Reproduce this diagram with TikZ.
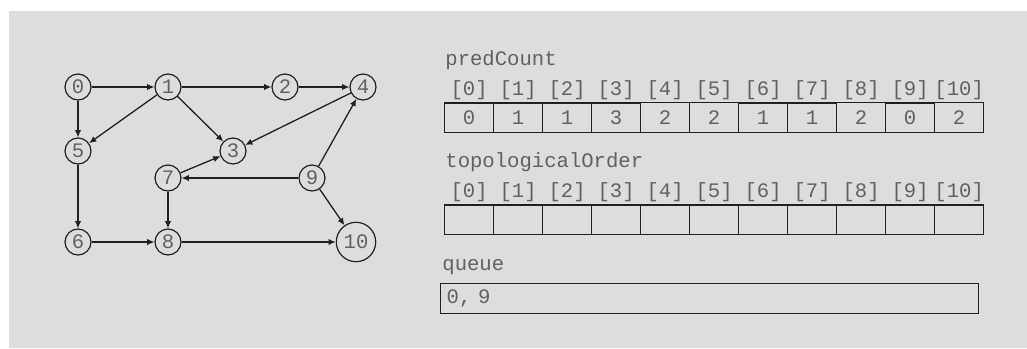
\documentclass[tikz,border=0pt]{standalone}
\usepackage{fontspec}
\setmonofont{Liberation Mono}
\usepackage{tikz}
\usetikzlibrary{
    arrows.meta,
    positioning,
    matrix
}
\definecolor{figGray}{RGB}{220,221,223}
\definecolor{inkDark}{RGB}{35,31,32}
\colorlet{inkText}{black!62}
\newcommand{\monofnt}{\ttfamily\fontsize{10.3pt}{12pt}\selectfont}
\tikzset{
  vtx/.style    = {draw=inkDark, circle, line width=0.6pt, minimum size=13pt,
                   inner sep=0pt, font=\monofnt, text=inkText},
  bigvtx/.style = {vtx, minimum size=19.7pt},
  edge/.style   = {-{Latex[length=3.6pt, width=3.2pt]}, line width=0.65pt,
                   draw=inkDark},
  cell/.style   = {draw=inkDark, line width=0.65pt, minimum width=24.5pt,
                   minimum height=14.75pt, inner sep=0pt, outer sep=0pt,
                   font=\monofnt, text=inkText},
  idx/.style    = {draw=none},
  lbl/.style    = {anchor=base west, inner sep=0pt, font=\monofnt, text=inkText}
}

\begin{document}
\begin{tikzpicture}[
        x=0.5pt, y=-0.5pt,
        arr/.style={matrix of nodes, nodes={cell}, nodes in empty cells,
                    row 1/.style={nodes={idx}}, column sep=-0.65pt,
                    row sep=-1.3pt, inner sep=0pt, outer sep=0pt,
                    anchor=north west}
      ]
        \useasboundingbox (0,0) rectangle (1027,348);
        \fill[figGray] (9,11) rectangle (1027,348);

        % ── GRAPH ──
        \node[vtx]    (v0)  at (78,87)   {0};
        \node[vtx]    (v1)  at (168,87)  {1};
        \node[vtx]    (v2)  at (285,87)  {2};
        \node[vtx]    (v4)  at (363,87)  {4};
        \node[vtx]    (v5)  at (78,151)  {5};
        \node[vtx]    (v3)  at (233,151) {3};
        \node[vtx]    (v7)  at (168,178) {7};
        \node[vtx]    (v9)  at (312,178) {9};
        \node[vtx]    (v6)  at (78,242)  {6};
        \node[vtx]    (v8)  at (168,242) {8};
        \node[bigvtx] (v10) at (356,242) {10};

        \draw[edge] (v0) -- (v1);
        \draw[edge] (v0) -- (v5);
        \draw[edge] (v1) -- (v2);
        \draw[edge] (v1) -- (v5);
        \draw[edge] (v1) -- (v3);
        \draw[edge] (v2) -- (v4);
        \draw[edge] (v4) -- (v3);
        \draw[edge] (v9) -- (v4);
        \draw[edge] (v7) -- (v3);
        \draw[edge] (v9) -- (v7);
        \draw[edge] (v9) -- (v10);
        \draw[edge] (v5) -- (v6);
        \draw[edge] (v7) -- (v8);
        \draw[edge] (v6) -- (v8);
        \draw[edge] (v8) -- (v10);

        % ── predCount ──
        \node[lbl] (pcName) at (445,65.5) {predCount};
        \matrix[arr] (pc) at (444,75.25) {
          {[0]} & {[1]} & {[2]} & {[3]} & {[4]} & {[5]} & {[6]} & {[7]} & {[8]} & {[9]} & {[10]} \\
          0 & 1 & 1 & 3 & 2 & 2 & 1 & 1 & 2 & 0 & 2 \\
        };

        % ── topologicalOrder ──
        \node[lbl] (toName) at (445,167) {topologicalOrder};
        \matrix[arr] (to) at (444,177.5) {
          {[0]} & {[1]} & {[2]} & {[3]} & {[4]} & {[5]} & {[6]} & {[7]} & {[8]} & {[9]} & {[10]} \\
            &   &   &   &   &   &   &   &   &   &   \\
        };

        % ── queue ──
        \node[draw=inkDark, line width=0.65pt, anchor=north west,
              minimum width=269pt, minimum height=14.75pt, inner xsep=3pt,
              inner ysep=0pt, text width=263pt, align=left, font=\monofnt,
              text=inkText] (qBox) at (440,283) {0, 9};
        \node[lbl] (qName) at (442,270) {queue};
      \end{tikzpicture}
\end{document}
